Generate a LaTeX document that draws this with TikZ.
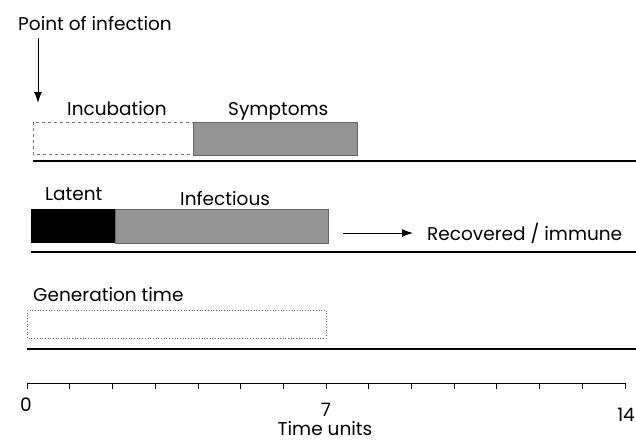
\documentclass[tikz,border=0pt]{standalone}
\usepackage{fontspec}
\setmainfont{Poppins}
\usepackage{tikz}
\usetikzlibrary{arrows.meta}

\begin{document}
\begin{tikzpicture}[x=1pt,y=-1pt,
  lbl/.style={font=\fontsize{18.5}{21}\selectfont,inner sep=0pt,anchor=west},
  shade/.style={fill=black!42,draw=black!60,line width=0.5pt},
  rule/.style={line width=1.2pt},
  arr/.style={line width=1pt,-{Latex[length=11pt,width=8pt]}}]
  \useasboundingbox (0,0) rectangle (636,445);
  % point of infection
  \node[lbl] (poi) at (18,24) {Point of infection};
  \coordinate (infA) at (38,38);
  \coordinate (infB) at (38,103);
  \draw[arr] (infA) -- (infB);
  % incubation / symptoms
  \node[lbl] (incub) at (67,109) {Incubation};
  \node[lbl] (sympt) at (228,111) {Symptoms};
  \draw[draw=black!55,dashed,line width=0.6pt] (33,122) rectangle (193,154);
  \draw[shade] (193,122) rectangle (357,155);
  \draw[rule] (33,161) -- (636,161);
  % latent / infectious
  \node[lbl] (latent) at (45,194) {Latent};
  \node[lbl] (infect) at (180,199) {Infectious};
  \draw[fill=black] (31,209) rectangle (115,242);
  \draw[shade] (115,209) rectangle (328,243);
  \node[lbl] (recov) at (427,233) {Recovered / immune};
  \coordinate (recA) at (343,233);
  \draw[arr] (recA) -- ([xshift=-14pt]recov.west);
  \draw[rule] (31,252) -- (636,252);
  % generation time
  \node[lbl] (gent) at (33,295) {Generation time};
  \draw[draw=black!60,dotted,line width=0.7pt] (27,310) rectangle (326,338);
  \draw[rule] (27,349) -- (636,349);
  % time axis
  \draw[line width=1pt] (27,383) -- (625,383);
  \draw[line width=0.6pt] (27,383) -- (27,389) (69.7,383) -- (69.7,389)
    (112.4,383) -- (112.4,389) (155.1,383) -- (155.1,389)
    (197.8,383) -- (197.8,389) (240.5,383) -- (240.5,389)
    (283.2,383) -- (283.2,389) (325.9,383) -- (325.9,389)
    (368.6,383) -- (368.6,389) (411.3,383) -- (411.3,389)
    (454,383) -- (454,389) (496.7,383) -- (496.7,389)
    (539.4,383) -- (539.4,389) (582.1,383) -- (582.1,389)
    (625,383) -- (625,389);
  \node[lbl,anchor=center] (lab0) at (26,405) {0};
  \node[lbl,anchor=center] (lab7) at (326,410) {7};
  \node[lbl,anchor=east] (lab14) at (635,415) {14};
  \node[lbl,anchor=center] (tunits) at (325,429) {Time units};
\end{tikzpicture}
\end{document}
